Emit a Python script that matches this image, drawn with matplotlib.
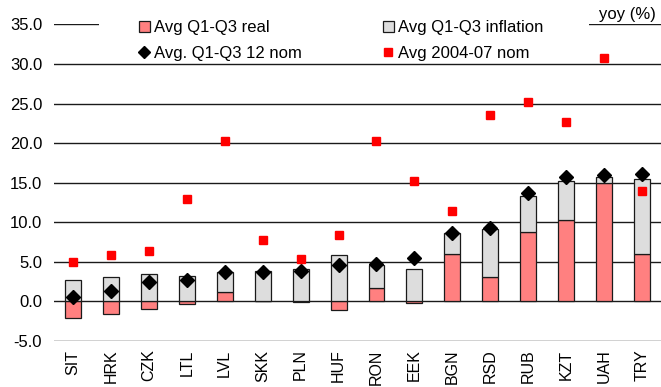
import numpy as np
import matplotlib.pyplot as plt
from matplotlib.lines import Line2D
from matplotlib.patches import Rectangle

plt.rcParams['font.family'] = ['Liberation Sans', 'DejaVu Sans']

#----数据------------------------------------
currencies = ['SIT', 'HRK', 'CZK', 'LTL', 'LVL', 'SKK', 'PLN', 'HUF',
              'RON', 'EEK', 'BGN', 'RSD', 'RUB', 'KZT', 'UAH', 'TRY']
real      = [-2.1, -1.7, -1.0, -0.4, 1.2, 0.05, -0.1, -1.1,
             1.7, -0.3, 6.0, 3.0, 8.7, 10.3, 14.9, 5.9]
inflation = [2.65, 3.0, 3.45, 3.15, 2.5, 3.8, 4.0, 5.8,
             2.9, 4.0, 2.6, 6.1, 4.6, 4.9, 0.8, 9.6]
nom_q1q3  = [0.45, 1.3, 2.4, 2.65, 3.7, 3.7, 3.8, 4.5,
             4.7, 5.45, 8.65, 9.3, 13.7, 15.7, 15.9, 16.1]
nom_0407  = [4.95, 5.85, 6.3, 12.9, 20.2, 7.75, 5.35, 8.4,
             20.2, 15.2, 11.4, 23.6, 25.15, 22.6, 30.8, 13.95]
yticks    = np.arange(-5, 36, 5)
#-------------------------------------------

x = np.arange(len(currencies))
real = np.array(real)
# excel式堆积: 正值叠在正值上, 负值向下
grey_bottom = np.maximum(real, 0)

fig = plt.figure(figsize=(6.61, 3.87), dpi=100)
ax = fig.add_axes([0.0817, 0.120, 0.9183, 0.8167])

ax.bar(x, real, width=0.42, color='#FF8080', edgecolor='#1a1a1a', lw=0.9, zorder=2)
ax.bar(x, inflation, width=0.42, bottom=grey_bottom, color='#DDDDDD',
       edgecolor='#1a1a1a', lw=0.9, zorder=2)
ax.plot(x, nom_q1q3, ls='none', marker='D', ms=7.5, color='black', zorder=3)
ax.plot(x, nom_0407, ls='none', marker='s', ms=5.2, color='#FF0000', zorder=3)

ax.set_xlim(-0.5, len(currencies) - 0.5)
ax.set_ylim(-5, 35)
ax.set_yticks(yticks)
ax.set_yticklabels(['%.1f' % v for v in yticks], fontsize=12)
ax.set_xticks(x)
ax.set_xticklabels(currencies, rotation=90, fontsize=11.5, va='top')
ax.tick_params(axis='both', length=0)
ax.tick_params(axis='y', pad=8.5)
ax.tick_params(axis='x', pad=6.5)
ax.grid(axis='y', color='#1a1a1a', lw=1.0)
ax.set_axisbelow(True)
for s in ax.spines.values():
    s.set_visible(False)

# 图例底下的白底
ax.add_patch(Rectangle((0.074, 0.88), 0.807, 0.2, transform=ax.transAxes,
                       facecolor='white', edgecolor='none', clip_on=False, zorder=4))

handles = [
    Rectangle((0, 0), 1, 1, facecolor='#FF8080', edgecolor='#1a1a1a', lw=0.9),
    Line2D([], [], ls='none', marker='D', ms=6, color='black'),
    Rectangle((0, 0), 1, 1, facecolor='#DDDDDD', edgecolor='#1a1a1a', lw=0.9),
    Line2D([], [], ls='none', marker='s', ms=5.2, color='#FF0000'),
]
labels = ['Avg Q1-Q3 real', 'Avg. Q1-Q3 12 nom',
          'Avg Q1-Q3 inflation', 'Avg 2004-07 nom']
leg = ax.legend(handles, labels, ncol=2, loc='upper left', frameon=False,
                bbox_to_anchor=(139 / 661, 0.948), bbox_transform=fig.transFigure,
                fontsize=12, handlelength=0.65, handleheight=0.65,
                handletextpad=0.25, columnspacing=4.85, labelspacing=0.63,
                borderpad=0, borderaxespad=0)
leg.set_zorder(5)

fig.text(656 / 661, 1 - 14 / 387, 'yoy (%)', ha='right', va='center', fontsize=12)

plt.savefig('out.png', dpi=100)
